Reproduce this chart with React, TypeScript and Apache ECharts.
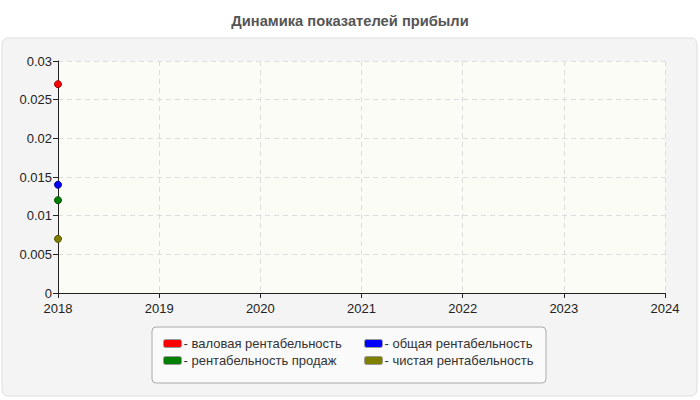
import { useEffect, useRef } from 'react';
import * as echarts from 'echarts';

const years = [2018];
const grossMargin = [0.027];
const totalMargin = [0.014];
const salesMargin = [0.012];
const netMargin = [0.007];
const seriesNames = [
  'валовая рентабельность',
  'общая рентабельность',
  'рентабельность продаж',
  'чистая рентабельность',
];
const seriesColors = ['#ff0000', '#0000ff', '#008000', '#808000'];
const seriesBorders = ['#a00000', '#00008a', '#005000', '#505000'];

export default function App() {
  const ref = useRef<HTMLDivElement>(null);

  useEffect(() => {
    const chart = echarts.init(ref.current!, null, { renderer: 'svg' });
    const values = [grossMargin, totalMargin, salesMargin, netMargin];
    const font = '"Liberation Sans", Arial, sans-serif';

    const legendBase = {
      orient: 'vertical',
      top: 332,
      icon: 'roundRect',
      itemWidth: 18,
      itemHeight: 8,
      itemGap: 4,
      formatter: (n: string) => '- ' + n,
      textStyle: { color: '#333', fontSize: 13, fontFamily: font, padding: [0, 0, 0, -3] },
      itemStyle: { borderColor: '#999', borderWidth: 1 },
    };

    chart.setOption({
      animation: false,
      title: {
        text: 'Динамика показателей прибыли',
        left: 'center',
        top: 8,
        textStyle: { fontSize: 14.7, fontWeight: 'bold', color: '#555', fontFamily: font },
      },
      graphic: [
        {
          type: 'rect',
          shape: { x: 2, y: 38, width: 695, height: 358, r: 6 },
          style: { fill: '#f4f4f4', stroke: '#dedede', lineWidth: 1 },
          z: -10,
        },
        {
          type: 'rect',
          shape: { x: 152, y: 327, width: 394, height: 56, r: 4 },
          style: { fill: '#fafafa', stroke: '#aaaaaa', lineWidth: 1 },
          z: -5,
        },
      ],
      grid: {
        left: 58,
        right: 35,
        top: 61,
        bottom: 107,
        show: true,
        backgroundColor: '#fcfcf6',
        borderWidth: 0,
      },
      xAxis: {
        type: 'value',
        min: 2018,
        max: 2024,
        interval: 1,
        axisLine: { show: true, lineStyle: { color: '#222' } },
        axisTick: { show: true, length: 5, lineStyle: { color: '#222' } },
        axisLabel: {
          color: '#222',
          fontSize: 13,
          lineHeight: 12,
          fontFamily: font,
          margin: 9,
          formatter: (v: number) => String(v),
        },
        splitLine: { show: true, lineStyle: { color: '#dddddd', type: [5, 4] } },
      },
      yAxis: {
        type: 'value',
        min: 0,
        max: 0.03,
        interval: 0.005,
        axisLine: { show: true, lineStyle: { color: '#222' } },
        axisTick: { show: true, length: 5, lineStyle: { color: '#222' } },
        axisLabel: { color: '#222', fontSize: 13, lineHeight: 12, fontFamily: font, margin: 6 },
        splitLine: { show: true, lineStyle: { color: '#dddddd', type: [5, 4] } },
      },
      legend: [
        { ...legendBase, left: 158, data: [seriesNames[0], seriesNames[2]] },
        { ...legendBase, left: 359, data: [seriesNames[1], seriesNames[3]] },
      ],
      series: seriesNames.map((name, i) => ({
        type: 'line',
        name,
        data: years.map((y, j) => [y, values[i][j]]),
        symbol: 'circle',
        symbolSize: 7,
        showSymbol: true,
        clip: false,
        color: seriesColors[i],
        itemStyle: { color: seriesColors[i], borderColor: seriesBorders[i], borderWidth: 1 },
        lineStyle: { color: seriesColors[i], width: 2 },
      })),
    });

    return () => chart.dispose();
  }, []);

  return (
    <div
      ref={ref}
      style={{ position: 'fixed', left: 0, top: 0, width: 700, height: 400, background: '#fff' }}
    />
  );
}
